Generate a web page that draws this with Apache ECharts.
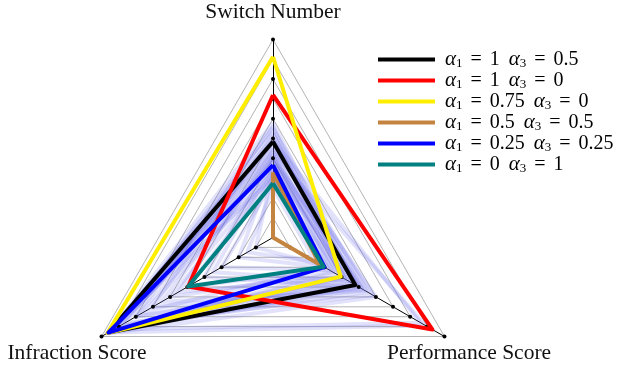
<!DOCTYPE html>
<html>
<head>
<meta charset="utf-8">
<script src="https://cdn.jsdelivr.net/npm/echarts@6/dist/echarts.min.js"></script>
<style>html,body{margin:0;padding:0;background:#fff;}#c{width:631px;height:366px;}</style>
</head>
<body>
<div id="c"></div>
<script>
// Axes (indicators), order: top, bottom-left, bottom-right
const indicators = ['Switch Number', 'Infraction Score', 'Performance Score'];
const axisMax = 10;
const tickLevels = [1, 2, 3, 4, 5, 6, 7, 8, 9, 10];

// Highlighted configurations
const alpha1 = ['1', '1', '0.75', '0.5', '0.25', '0'];
const alpha3 = ['0.5', '0', '0', '0.5', '0.25', '1'];
const seriesNames = alpha1.map((a, i) => 'α₁ = ' + a + ' α₃ = ' + alpha3[i]);

// values [Switch, Infraction, Performance]
const black  = [4.84, 9.6, 4.8];
const red    = [7.2, 4.95, 9.3];
const yellow = [9.13, 9.65, 3.95];
const brown  = [3.3, 0, 2.72];
const blue   = [3.66, 9.6, 3.0];
const teal   = [2.74, 4.95, 2.95];
const seriesColors = ['#000000', '#ff0000', '#ffee00', '#c4843f', '#0000ff', '#008080'];

// Background (faint) runs
const background = [
  [4.5, 9.5, 4.5], [5.0, 9.6, 5.0], [4.0, 9.4, 4.2], [5.5, 9.2, 5.5],
  [3.8, 9.0, 3.8], [4.8, 8.6, 5.8], [3.5, 8.0, 4.6], [4.2, 9.6, 3.5],
  [5.8, 9.5, 4.8], [3.2, 6.0, 3.5], [3.0, 5.0, 3.2], [4.4, 5.5, 4.0],
  [3.6, 2.0, 3.0], [3.4, 1.0, 2.8], [2.8, 3.0, 3.3], [5.2, 7.0, 5.2],
  [4.6, 9.7, 6.0], [3.9, 9.0, 5.2], [3.3, 7.5, 3.0], [5.6, 8.0, 4.2],
  [4.1, 4.0, 5.0], [3.0, 9.6, 4.0], [2.5, 1.5, 2.5], [4.9, 9.3, 8.6],
  [4.3, 9.6, 8.9], [3.7, 3.5, 4.4], [5.3, 9.4, 4.0], [4.0, 6.5, 5.4]
];

const highlighted = [black, red, yellow, brown, blue, teal];

const chart = echarts.init(document.getElementById('c'), null, {renderer: 'canvas'});

const series = [];
series.push({
  type: 'radar', silent: true, z: 2,
  symbol: 'none',
  lineStyle: {color: 'rgba(110,110,235,0.2)', width: 4},
  data: background.map(v => ({value: v}))
});
series.push({
  type: 'radar', silent: true, z: 2,
  symbol: 'circle', symbolSize: 4,
  itemStyle: {color: '#000'},
  lineStyle: {opacity: 0},
  data: tickLevels.map(t => ({value: indicators.map(() => t)}))
});
highlighted.forEach((vals, i) => {
  series.push({
    type: 'radar', name: seriesNames[i], z: 3,
    symbol: 'none',
    color: seriesColors[i],
    itemStyle: {color: seriesColors[i]},
    lineStyle: {color: seriesColors[i], width: 4},
    data: [{value: vals, name: seriesNames[i]}]
  });
});

const serif = 'Liberation Serif';
chart.setOption({
  animation: false,
  backgroundColor: '#fff',
  radar: {
    center: [273, 237.5],
    radius: 198,
    shape: 'polygon',
    splitNumber: 10,
    indicator: indicators.map(n => ({name: n, min: 0, max: axisMax})),
    axisName: {show: false},
    axisLine: {lineStyle: {color: '#000', width: 1}},
    splitLine: {lineStyle: {color: '#b4b4b4', width: 1}},
    splitArea: {show: false}
  },
  legend: {
    orient: 'vertical',
    left: 373,
    top: 44,
    data: seriesNames.map(n => ({name: n, icon: 'rect'})),
    itemWidth: 57,
    itemHeight: 4,
    itemGap: 0,
    selectedMode: false,
    formatter: function (name) {
      const i = seriesNames.indexOf(name);
      return '{a|α}{s|1}{t| }{e|=}{t| ' + alpha1[i] + '}{b|α}{s|3}{t| }{e|=}{t| ' + alpha3[i] + '}';
    },
    textStyle: {
      fontFamily: serif, fontSize: 20, color: '#000', lineHeight: 20, padding: [0, 0, 0, 5],
      rich: {
        a: {fontFamily: serif, fontStyle: 'italic', fontSize: 21, lineHeight: 20, color: '#000'},
        b: {fontFamily: serif, fontStyle: 'italic', fontSize: 21, lineHeight: 20, color: '#000', padding: [0, 0, 0, 9]},
        s: {fontFamily: serif, fontSize: 13, padding: [8, 0, 0, 0], color: '#000'},
        t: {fontFamily: serif, fontSize: 20, lineHeight: 20, color: '#000'},
        e: {fontFamily: serif, fontSize: 20, lineHeight: 20, padding: [0, 3, 0, 3], color: '#000'}
      }
    }
  },
  graphic: [
    {type: 'text', style: {text: indicators[0], x: 273, y: 12, align: 'center', verticalAlign: 'middle', font: '21.5px "Liberation Serif"', fill: '#111'}},
    {type: 'text', style: {text: indicators[1], x: 77, y: 353, align: 'center', verticalAlign: 'middle', font: '21.5px "Liberation Serif"', fill: '#111'}},
    {type: 'text', style: {text: indicators[2], x: 469, y: 353, align: 'center', verticalAlign: 'middle', font: '21.5px "Liberation Serif"', fill: '#111'}}
  ],
  series: series
});
</script>
</body>
</html>
